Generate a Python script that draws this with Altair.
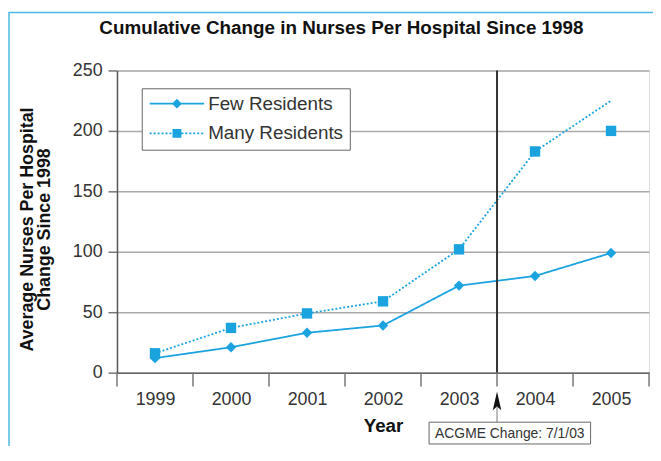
import altair as alt
import pandas as pd

# ---------------- data ----------------
years = [1999, 2000, 2001, 2002, 2003, 2004, 2005]
few_residents = [12, 21, 33, 39, 72, 80, 99]
many_residents = [16, 37, 49, 59, 102, 183, 200]
# the dotted "Many Residents" path ends above its last marker in the original
many_residents_line = [16, 37, 49, 59, 102, 183, 225]
series_names = ["Few Residents", "Many Residents"]
y_ticks = [0, 50, 100, 150, 200, 250]
acgme_year = 2003.5
acgme_label = "ACGME Change: 7/1/03"
title_text = "Cumulative Change in Nurses Per Hospital Since 1998"
y_title = ["Average Nurses Per Hospital", "Change Since 1998"]
x_title = "Year"

# ---------------- styling ----------------
FONT = "Liberation Sans"
BLUE = "#1ba3e0"
FRAME_BLUE = "#4cb9e4"
NBSP = "\u00a0"

band_edges = [y - 0.5 for y in years] + [years[-1] + 0.5]

points_df = pd.DataFrame({
    "year": years * 2,
    "value": few_residents + many_residents,
    "series": [series_names[0]] * len(years) + [series_names[1]] * len(years),
})
lines_df = pd.DataFrame({
    "year": years * 2,
    "value": few_residents + many_residents_line,
    "series": [series_names[0]] * len(years) + [series_names[1]] * len(years),
})
edges_df = pd.DataFrame({"edge": band_edges})
annot_df = pd.DataFrame({"x": [acgme_year], "label": [acgme_label]})

x_enc = alt.X(
    "year:Q",
    scale=alt.Scale(domain=[band_edges[0], band_edges[-1]], nice=False, zero=False),
    axis=alt.Axis(
        values=years,
        format="d",
        grid=False,
        ticks=False,
        tickSize=0,
        labelFont=FONT,
        labelFontSize=18,
        labelColor="#333",
        labelPadding=18,
        labelOverlap=False,
        labelFlush=False,
        domainColor="#666",
        domainWidth=1.5,
        title=x_title,
        titleFont=FONT,
        titleFontSize=19,
        titleFontWeight="bold",
        titleColor="#111",
        titlePadding=8,
    ),
)
y_enc = alt.Y(
    "value:Q",
    scale=alt.Scale(domain=[0, 250], nice=False),
    axis=alt.Axis(
        values=y_ticks,
        grid=True,
        gridColor="#aaa",
        gridWidth=1.5,
        domainColor="#555",
        domainWidth=1.5,
        tickColor="#777",
        tickWidth=1.5,
        tickSize=9,
        labelFont=FONT,
        labelFontSize=18,
        labelColor="#333",
        labelPadding=6,
        title=y_title,
        titleFont=FONT,
        titleFontSize=18,
        titleFontWeight="bold",
        titleColor="#111",
        titlePadding=19,
        titleLineHeight=17,
        titleY=160,
    ),
)

lines = alt.Chart(lines_df).mark_line(color=BLUE, strokeWidth=1.8).encode(
    x=x_enc,
    y=y_enc,
    strokeDash=alt.StrokeDash(
        "series:N",
        scale=alt.Scale(domain=series_names, range=[[1, 0], [2, 2]]),
        legend=None,
    ),
)

points = alt.Chart(points_df).mark_point(filled=True, color=BLUE, size=110, opacity=1).encode(
    x="year:Q",
    y="value:Q",
    shape=alt.Shape(
        "series:N",
        scale=alt.Scale(domain=series_names, range=["diamond", "square"]),
        legend=None,
    ),
)

# x-axis band separators (ticks between the year labels)
edge_ticks = alt.Chart(edges_df).mark_rule(color="#777", strokeWidth=1.5).encode(
    x="edge:Q", y=alt.value(305), y2=alt.value(319)
)

# legend symbols: line + marker drawn as filled custom symbol paths
dots = "".join(f"M{x/10:.2f},-0.18h0.4v0.36h-0.4Z" for x in range(-55, 55, 8))
few_sym = "M-5.5,-0.18H5.5V0.18H-5.5ZM0,-1L1,0L0,1L-1,0Z"
many_sym = dots + "M-0.9,-0.9H0.9V0.9H-0.9Z"

legend_layer = alt.Chart(points_df).transform_filter("false").mark_point(
    filled=True, color=BLUE, opacity=1
).encode(
    x="year:Q",
    y="value:Q",
    shape=alt.Shape(
        "series:N",
        scale=alt.Scale(domain=series_names, range=[few_sym, many_sym]),
        legend=alt.Legend(
            title=None,
            orient="none",
            legendX=25,
            legendY=18,
            direction="vertical",
            labelFont=FONT,
            labelFontSize=19,
            labelColor="#333",
            labelExpr="datum.label + '" + NBSP * 3 + "'",
            symbolSize=100,
            symbolOffset=20,
            labelOffset=22,
            rowPadding=10,
            padding=6,
            strokeColor="#666",
            fillColor="white",
            symbolFillColor=BLUE,
            symbolOpacity=1,
        ),
    ),
)

acgme_rule = alt.Chart(annot_df).mark_rule(color="#333", strokeWidth=2).encode(x="x:Q")

arrow = alt.Chart(annot_df).mark_point(
    shape="M0,-1L0.45,1L0,0.6L-0.45,1Z", filled=True, color="#111", size=361, opacity=1
).encode(x="x:Q", y=alt.value(333.5))

connector = alt.Chart(annot_df).mark_rule(color="#777", strokeWidth=1).encode(
    x="x:Q", y=alt.value(339), y2=alt.value(355)
)

box = alt.Chart(annot_df).mark_rect(fill="white", stroke="#666", strokeWidth=1).encode(
    x=alt.value(315), x2=alt.value(478), y=alt.value(355), y2=alt.value(377)
)

box_text = alt.Chart(annot_df).mark_text(
    font=FONT, fontSize=14, color="#333", align="center", baseline="middle"
).encode(x=alt.value(396.5), y=alt.value(366.5), text="label:N")

frame = alt.Chart(annot_df).mark_rect(
    fill="transparent", stroke=FRAME_BLUE, strokeWidth=1.5
).encode(x=alt.value(-109), x2=alt.value(700), y=alt.value(-58.5), y2=alt.value(600))

chart = alt.layer(
    frame, lines, acgme_rule, edge_ticks, points, legend_layer, arrow, connector, box, box_text
).resolve_scale(shape="independent").properties(
    width=537,
    height=305,
    autosize=alt.AutoSizeParams(type="none"),
    padding={"left": 110, "top": 61, "right": 4, "bottom": 72},
    title=alt.TitleParams(
        text=title_text,
        font=FONT,
        fontSize=19,
        fontWeight="bold",
        color="#111",
        anchor="middle",
        frame="group",
        baseline="alphabetic",
        dx=-42,
        offset=-41,
    ),
).configure_view(stroke="#999", strokeWidth=1.5).configure(background="white")

chart.save("out.html", embed_options={"renderer": "svg", "actions": False})
